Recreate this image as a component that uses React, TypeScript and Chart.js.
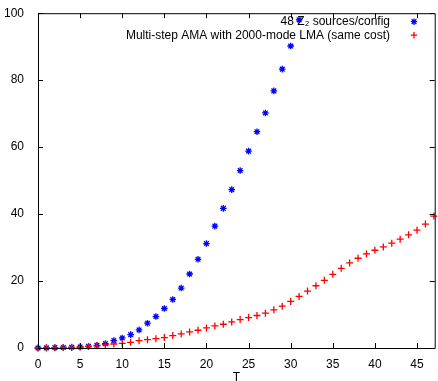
import React, { useEffect, useRef } from "react";
import { Chart, registerables } from "chart.js";

Chart.register(...registerables);

const blueLabel = "48 Z\u2082 sources/config";
const redLabel = "Multi-step AMA with 2000-mode LMA (same cost)";
const blueT = [0,1,2,3,4,5,6,7,8,9,10,11,12,13,14,15,16,17,18,19,20,21,22,23,24,25,26,27,28,29,30,31];
const blueVals = [0,0.05,0.1,0.15,0.2,0.3,0.5,0.8,1.3,2.2,3.0,4.0,5.4,7.4,9.4,11.8,14.5,17.9,22.1,26.5,31.2,36.4,41.7,47.3,53.0,58.8,64.6,70.2,76.8,83.3,90.2,98.0];
const redT = [0,1,2,3,4,5,6,7,8,9,10,11,12,13,14,15,16,17,18,19,20,21,22,23,24,25,26,27,28,29,30,31,32,33,34,35,36,37,38,39,40,41,42,43,44,45,46,47];
const redVals = [0,0.05,0.1,0.15,0.2,0.3,0.45,0.65,1.0,1.2,1.4,1.7,2.2,2.5,2.8,3.1,3.7,4.2,4.8,5.3,6.0,6.6,7.1,7.8,8.5,9.1,9.7,10.4,11.4,12.5,13.9,15.4,17.0,18.6,20.2,22.0,23.8,25.4,26.8,28.1,29.2,30.2,31.3,32.5,33.8,35.2,37.0,39.4];
const xTicks = [0,5,10,15,20,25,30,35,40,45];
const yTicks = [0,20,40,60,80,100];
const xTitle = "T";

const FONT = "'Liberation Sans', Arial, Helvetica, sans-serif";

const framePlugin = {
  id: "frame",
  afterDraw(chart: any) {
    const { ctx, chartArea } = chart;
    const { left, right, top, bottom } = chartArea;
    const xs = chart.scales.x;
    const ys = chart.scales.y;
    ctx.save();
    ctx.strokeStyle = "#000";
    ctx.lineWidth = 1;
    ctx.beginPath();
    ctx.rect(left + 0.5, top + 0.5, right - left, bottom - top);
    const tl = 5;
    xTicks.forEach((v) => {
      const px = Math.round(xs.getPixelForValue(v)) + 0.5;
      ctx.moveTo(px, bottom);
      ctx.lineTo(px, bottom - tl);
      ctx.moveTo(px, top);
      ctx.lineTo(px, top + tl);
    });
    yTicks.forEach((v) => {
      const py = Math.round(ys.getPixelForValue(v)) + 0.5;
      ctx.moveTo(left, py);
      ctx.lineTo(left + tl, py);
      ctx.moveTo(right, py);
      ctx.lineTo(right - tl, py);
    });
    ctx.stroke();

    // legend
    ctx.font = `12px ${FONT}`;
    ctx.textAlign = "right";
    ctx.textBaseline = "middle";
    ctx.fillStyle = "#000";
    const entries = [
      { label: blueLabel, color: "#0000ff", style: "star" },
      { label: redLabel, color: "#ff0000", style: "cross" },
    ];
    entries.forEach((e, i) => {
      const y = top + 8.5 + i * 13.5;
      ctx.fillText(e.label, 390, y);
      ctx.strokeStyle = e.color;
      ctx.lineWidth = 1.3;
      const r = 3.2;
      const cx = 414;
      ctx.beginPath();
      ctx.moveTo(cx - r, y);
      ctx.lineTo(cx + r, y);
      ctx.moveTo(cx, y - r);
      ctx.lineTo(cx, y + r);
      if (e.style === "star") {
        const d = r * 0.75;
        ctx.moveTo(cx - d, y - d);
        ctx.lineTo(cx + d, y + d);
        ctx.moveTo(cx - d, y + d);
        ctx.lineTo(cx + d, y - d);
      }
      ctx.stroke();
    });
    ctx.restore();
  },
};

export default function App() {
  const ref = useRef<HTMLCanvasElement | null>(null);
  useEffect(() => {
    if (!ref.current) return;
    const chart = new Chart(ref.current, {
      type: "scatter",
      data: {
        datasets: [
          {
            label: blueLabel,
            data: blueT.map((t, i) => ({ x: t, y: blueVals[i] })),
            pointStyle: "star",
            pointRadius: 3.3,
            borderColor: "#0000ff",
            backgroundColor: "#0000ff",
            pointBorderWidth: 1.3,
            showLine: false,
            clip: false as any,
            order: 1,
          },
          {
            label: redLabel,
            data: redT.map((t, i) => ({ x: t, y: redVals[i] })),
            pointStyle: "cross",
            pointRadius: 3.5,
            borderColor: "#ff0000",
            backgroundColor: "#ff0000",
            pointBorderWidth: 1.3,
            showLine: false,
            clip: false as any,
            order: 0,
          },
        ],
      },
      options: {
        animation: false,
        responsive: false,
        events: [],
        layout: { padding: { top: 12, right: 1, left: 0, bottom: 0 } },
        plugins: { legend: { display: false }, tooltip: { enabled: false } },
        scales: {
          x: {
            type: "linear",
            min: 0,
            max: 47.1,
            grid: { display: false },
            border: { display: false },
            afterFit: (s: any) => { s.height = 33; },
            afterBuildTicks: (s: any) => { s.ticks = xTicks.map((v) => ({ value: v })); },
            ticks: { color: "#000", font: { family: FONT, size: 12 }, padding: 1, maxRotation: 0 },
            title: { display: true, text: xTitle, color: "#000", font: { family: FONT, size: 12 }, padding: { top: 0, bottom: -4 } },
          },
          y: {
            type: "linear",
            min: 0,
            max: 100,
            grid: { display: false },
            border: { display: false },
            afterFit: (s: any) => { s.width = 38; },
            afterBuildTicks: (s: any) => { s.ticks = yTicks.map((v) => ({ value: v })); },
            ticks: { color: "#000", font: { family: FONT, size: 12 }, padding: 6 },
          },
        },
      },
      plugins: [framePlugin],
    });
    return () => chart.destroy();
  }, []);
  return (
    <div style={{ position: "fixed", left: 0, top: 0, width: 438, height: 381, overflow: "hidden", background: "#fff" }}>
      <canvas ref={ref} width={440} height={381} style={{ display: "block", width: 440, height: 381 }} />
    </div>
  );
}
